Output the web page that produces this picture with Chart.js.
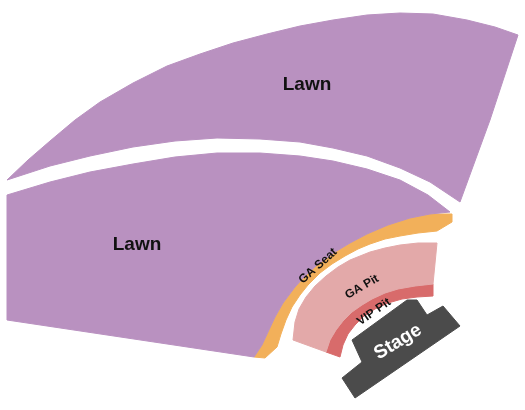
<!DOCTYPE html>
<html lang="en">
<head>
<meta charset="UTF-8">
<title>Venue Map</title>
<script src="https://cdn.jsdelivr.net/npm/chart.js@4.4.0/dist/chart.umd.min.js"></script>
<style>
  html, body { margin: 0; padding: 0; background: #fff; }
  #wrap { width: 525px; height: 410px; }
</style>
</head>
<body>
<div id="wrap"><canvas id="map"></canvas></div>
<script>
// Section outlines in 525x410 pixel units
const upperLawn = [[7,180],[28,160],[50,141],[75,120],[100,102],[133,83],[167,66],[200,54],[233,43],[267,34],[300,26],
  [333,20],[367,15],[400,13],[433,14],[467,20],[495,27],[518,35],
  [490,120],[460,202],[430,182],[400,168],[367,156],[333,148],[300,142],[260,139],[217,138],[175,141],[133,147],
  [90,156],[50,166],[7,180]];
const lowerLawn = [[7,195],[50,182],[90,172],[133,164],[175,157],[217,153],[260,153],[300,156],[333,161],[367,169],
  [400,180],[428,195],[450,212],
  [430,214],[410,218],[388,225],[367,234],[350,243],[335,252],[317,265],[305,276],[295,287],[283,303],[275,317],
  [268,332],[262,345],[254,357],[7,320],[7,195]];
const gaSeat = [[452,214],[430,214],[410,218],[388,225],[367,234],[350,243],[335,252],[317,265],[305,276],[295,287],
  [283,303],[275,317],[268,332],[262,345],[254,357],
  [265,358],[277,347],[281,334],[286,320],[292,307],[300,295],[308,285],[320,273],[332,264],[345,256],[358,249],
  [370,244],[385,239],[400,236],[418,233],[437,231],[452,222],[452,214]];
const gaPit = [[437,243],[418,243],[400,245],[385,248],[370,252],[350,260],[338,267],[326,276],[315,286],[306,297],
  [299,309],[295,322],[293,340],
  [326,352],[330,340],[336,330],[343,321],[352,312],[362,305],[372,299],[385,293],[398,289],[415,286],[433,284],[437,243]];
const vipPit = [[433,284],[415,286],[398,289],[385,293],[372,299],[362,305],[352,312],[343,321],[336,330],[330,340],
  [326,352],[340,357],[343,345],[348,334],[355,325],[364,316],[375,309],[388,303],[402,299],[417,297],[433,296],[433,284]];
const stage = [[352,340],[407,300],[417,300],[427,315],[443,306],[460,326],[355,398],[342,378],[362,362],[352,340]];

const sectionNames = ['Lawn', 'Lawn', 'GA Seat', 'GA Pit', 'VIP Pit', 'Stage'];
const sectionColors = ['#b991c0', '#b991c0', '#f2b05a', '#e3a9a9', '#d86b6b', '#4b4b4b'];
const sectionShapes = [upperLawn, lowerLawn, gaSeat, gaPit, vipPit, stage];

// label positions, angle, size, colour
const labelX = [307, 137, 318, 362, 374, 398];
const labelY = [85, 245, 266, 287, 312, 342];
const labelAngle = [0, 0, -42, -30, -35, -31];
const labelSize = [19, 19, 12, 12, 12, 19];
const labelColor = ['#111', '#111', '#111', '#111', '#111', '#fff'];

const labelsPlugin = {
    id: 'sectionLabels',
    afterDatasetsDraw(chart) {
        const ctx = chart.ctx;
        const xs = chart.scales.x, ys = chart.scales.y;
        sectionNames.forEach(function(name, i) {
            ctx.save();
            ctx.translate(xs.getPixelForValue(labelX[i]), ys.getPixelForValue(labelY[i]));
            ctx.rotate(labelAngle[i] * Math.PI / 180);
            ctx.font = 'bold ' + labelSize[i] + 'px "Liberation Sans", Arial, sans-serif';
            ctx.fillStyle = labelColor[i];
            ctx.textAlign = 'center';
            ctx.textBaseline = 'middle';
            ctx.fillText(name, 0, 0);
            ctx.restore();
        });
    }
};

const datasets = sectionShapes.map(function(shape, i) {
    return {
        label: sectionNames[i],
        data: shape.map(function(p) { return { x: p[0], y: p[1] }; }),
        showLine: true,
        fill: 'shape',
        backgroundColor: sectionColors[i],
        borderColor: sectionColors[i],
        borderWidth: 1,
        pointRadius: 0,
        tension: 0
    };
});

new Chart(document.getElementById('map'), {
    type: 'scatter',
    data: { datasets: datasets },
    options: {
        responsive: true,
        maintainAspectRatio: false,
        animation: false,
        layout: { padding: 0 },
        plugins: { legend: { display: false }, tooltip: { enabled: false } },
        scales: {
            x: { type: 'linear', min: 0, max: 525, display: false },
            y: { type: 'linear', min: 0, max: 410, reverse: true, display: false }
        }
    },
    plugins: [labelsPlugin]
});
</script>
</body>
</html>
